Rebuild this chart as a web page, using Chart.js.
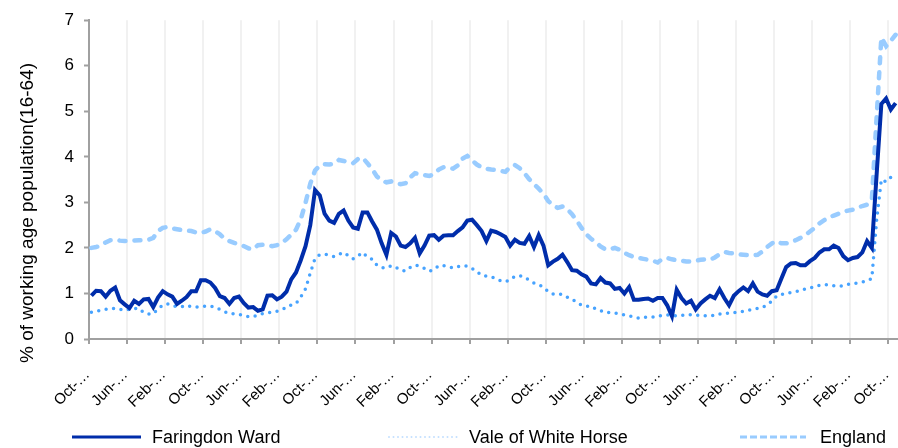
<!DOCTYPE html>
<html>
<head>
<meta charset="utf-8">
<script src="https://cdn.jsdelivr.net/npm/chart.js@4.4.0/dist/chart.umd.min.js"></script>
<style>
  html, body { margin: 0; padding: 0; background: #fff; }
  #wrap { position: relative; width: 898px; height: 448px; }
  #legend { position: absolute; left: 0; top: 427px; width: 898px; height: 20px;
    font: 18px 'Liberation Sans', Arial, sans-serif; color: #000; }
  .item { position: absolute; top: 0; height: 20px; display: flex; align-items: center; white-space: nowrap; }
</style>
</head>
<body>
<div id="wrap">
  <canvas id="chart" width="898" height="448"></canvas>
  <div id="legend"></div>
</div>
<script>
// tick labels, one every 8 points
const tickLabels = ['Oct-…', 'Jun-…', 'Feb-…', 'Oct-…', 'Jun-…', 'Feb-…', 'Oct-…', 'Jun-…',
  'Feb-…', 'Oct-…', 'Jun-…', 'Feb-…', 'Oct-…', 'Jun-…', 'Feb-…', 'Oct-…', 'Jun-…', 'Feb-…',
  'Oct-…', 'Jun-…', 'Feb-…', 'Oct-…'];

const faringdon = [0.95,1.06,1.05,0.93,1.06,1.13,0.85,0.76,0.68,0.84,
  0.77,0.87,0.88,0.70,0.91,1.05,0.98,0.93,0.77,0.84,
  0.92,1.05,1.05,1.29,1.29,1.24,1.12,0.94,0.90,0.77,
  0.90,0.93,0.79,0.69,0.70,0.62,0.65,0.95,0.96,0.87,
  0.93,1.04,1.31,1.46,1.73,2.04,2.50,3.27,3.15,2.75,
  2.60,2.55,2.75,2.82,2.60,2.45,2.42,2.78,2.78,2.58,
  2.40,2.10,1.85,2.33,2.25,2.05,2.02,2.10,2.22,1.88,
  2.05,2.27,2.28,2.18,2.27,2.28,2.28,2.37,2.45,2.60,
  2.62,2.50,2.37,2.15,2.38,2.35,2.30,2.24,2.05,2.18,
  2.11,2.09,2.26,2.02,2.28,2.05,1.62,1.70,1.76,1.85,
  1.69,1.51,1.50,1.42,1.37,1.22,1.20,1.34,1.24,1.22,
  1.10,1.12,1.00,1.14,0.86,0.86,0.88,0.89,0.84,0.90,
  0.90,0.74,0.50,1.08,0.90,0.78,0.84,0.65,0.78,0.87,
  0.95,0.90,1.09,0.90,0.74,0.95,1.05,1.13,1.05,1.22,
  1.04,0.98,0.95,1.05,1.07,1.33,1.58,1.66,1.67,1.62,
  1.62,1.71,1.78,1.90,1.97,1.97,2.05,2.00,1.82,1.73,
  1.78,1.80,1.90,2.15,2.00,3.60,5.16,5.28,5.04,5.18];

const vale = [0.59,0.61,0.63,0.65,0.67,0.67,0.65,0.63,0.65,0.67,
  0.67,0.58,0.55,0.55,0.66,0.74,0.77,0.73,0.71,0.71,
  0.74,0.71,0.70,0.71,0.72,0.72,0.70,0.65,0.60,0.56,
  0.55,0.54,0.51,0.49,0.49,0.53,0.56,0.57,0.59,0.61,
  0.65,0.69,0.75,0.78,0.92,1.10,1.45,1.77,1.85,1.86,
  1.84,1.81,1.86,1.90,1.83,1.76,1.82,1.90,1.80,1.75,
  1.62,1.57,1.56,1.61,1.57,1.51,1.49,1.57,1.62,1.60,
  1.55,1.49,1.52,1.61,1.61,1.59,1.56,1.59,1.61,1.60,
  1.55,1.48,1.40,1.38,1.36,1.33,1.28,1.26,1.30,1.38,
  1.39,1.36,1.29,1.23,1.19,1.14,1.04,0.99,0.98,0.98,
  0.92,0.87,0.81,0.74,0.72,0.72,0.66,0.62,0.58,0.58,
  0.57,0.55,0.53,0.51,0.48,0.46,0.48,0.48,0.48,0.50,
  0.52,0.53,0.52,0.51,0.52,0.53,0.53,0.52,0.52,0.51,
  0.51,0.52,0.55,0.56,0.57,0.58,0.59,0.61,0.63,0.65,
  0.67,0.69,0.75,0.83,0.94,0.98,1.00,1.02,1.04,1.06,
  1.10,1.12,1.15,1.18,1.19,1.19,1.17,1.16,1.17,1.20,
  1.22,1.23,1.25,1.28,1.33,2.60,3.50,3.45,3.55,3.65];

const england = [2.00,2.02,2.05,2.12,2.17,2.18,2.16,2.15,2.15,2.16,
  2.17,2.17,2.18,2.22,2.37,2.44,2.46,2.43,2.41,2.39,
  2.38,2.37,2.34,2.33,2.36,2.41,2.37,2.30,2.20,2.15,
  2.11,2.08,2.04,1.99,1.97,2.06,2.07,2.06,2.04,2.06,
  2.11,2.19,2.29,2.40,2.63,2.99,3.41,3.70,3.81,3.84,
  3.83,3.85,3.93,3.91,3.88,3.86,3.95,3.98,3.86,3.73,
  3.57,3.48,3.44,3.46,3.42,3.40,3.42,3.55,3.64,3.62,
  3.60,3.58,3.62,3.72,3.77,3.76,3.74,3.81,3.96,4.02,
  3.92,3.83,3.77,3.74,3.72,3.71,3.69,3.67,3.78,3.82,
  3.75,3.64,3.51,3.40,3.30,3.19,3.03,2.93,2.88,2.91,
  2.85,2.74,2.60,2.44,2.30,2.20,2.13,2.03,1.97,1.97,
  2.00,1.96,1.89,1.84,1.80,1.78,1.76,1.74,1.72,1.68,
  1.76,1.78,1.75,1.73,1.72,1.70,1.70,1.72,1.74,1.75,
  1.74,1.79,1.86,1.91,1.89,1.88,1.86,1.85,1.84,1.84,
  1.85,1.92,2.02,2.10,2.15,2.10,2.10,2.13,2.17,2.22,
  2.28,2.36,2.44,2.54,2.61,2.67,2.71,2.75,2.79,2.82,
  2.84,2.88,2.92,2.95,3.05,4.85,6.62,6.43,6.55,6.68];

const seriesNames = ['Faringdon Ward', 'Vale of White Horse', 'England'];
const yTitle = '% of working age population(16-64)';

const FONT = "'Liberation Sans', Arial, sans-serif";
const AXIS = '#a0a0a0';
const GRID = '#f1f1f1';

// y axis title sits lower than the plot centre in the original
const yTitlePlugin = {
  id: 'yTitle',
  afterDraw(chart) {
    const ctx = chart.ctx;
    ctx.save();
    ctx.translate(33, 213);
    ctx.rotate(-Math.PI / 2);
    ctx.font = '19px ' + FONT;
    ctx.fillStyle = '#000';
    ctx.textAlign = 'center';
    ctx.textBaseline = 'alphabetic';
    ctx.fillText(yTitle, 0, 0);
    ctx.restore();
  }
};

const chart = new Chart(document.getElementById('chart'), {
  type: 'line',
  data: {
    labels: faringdon.map((v, i) => i),
    datasets: [{
      label: seriesNames[0],
      data: faringdon,
      borderColor: '#002daa',
      borderWidth: 4,
      pointRadius: 0,
      tension: 0,
      legendSample: { dash: '', width: 3, color: '#002daa', cap: 'butt' }
    }, {
      label: seriesNames[1],
      data: vale,
      borderColor: '#47a3ff',
      borderWidth: 3.5,
      borderDash: [0, 7.5],
      borderCapStyle: 'round',
      pointRadius: 0,
      tension: 0,
      legendSample: { dash: '0 4.5', width: 2, color: '#c4e0ff', cap: 'round' }
    }, {
      label: seriesNames[2],
      data: england,
      borderColor: '#99ccff',
      borderWidth: 4.5,
      borderDash: [6, 9],
      borderCapStyle: 'round',
      pointRadius: 0,
      tension: 0,
      legendSample: { dash: '7 3', width: 3, color: '#99ccff', cap: 'butt' }
    }]
  },
  options: {
    responsive: false,
    animation: false,
    devicePixelRatio: 1,
    layout: { padding: { top: 17, right: 0, bottom: 0, left: 0 } },
    plugins: {
      legend: { display: false },
      tooltip: { enabled: false }
    },
    scales: {
      x: {
        offset: true,
        grid: {
          offset: true,
          lineWidth: 2,
          color: (c) => (c.index % 8 === 0 ? GRID : 'rgba(0,0,0,0)'),
          tickColor: (c) => (c.index % 8 === 0 ? AXIS : 'rgba(0,0,0,0)'),
          tickLength: 5,
          tickWidth: 2
        },
        border: { color: AXIS, width: 2 },
        ticks: {
          autoSkip: false,
          minRotation: 45,
          maxRotation: 45,
          padding: 22,
          labelOffset: -4,
          color: '#000',
          font: { family: FONT, size: 15 },
          callback: (v, i) => (i % 8 === 0 ? tickLabels[i / 8] : '')
        },
        afterFit: (scale) => {
          scale.height = 109;
          scale.paddingLeft = 0;
          scale.paddingRight = 0;
        }
      },
      y: {
        min: 0,
        max: 7,
        ticks: {
          stepSize: 1,
          padding: 10,
          color: '#000',
          font: { family: FONT, size: 17 }
        },
        grid: {
          drawOnChartArea: false,
          color: 'rgba(0,0,0,0)',
          tickColor: AXIS,
          tickLength: 5,
          tickWidth: 2
        },
        border: { color: AXIS, width: 2 },
        afterFit: (scale) => { scale.width = 89; }
      }
    }
  },
  plugins: [yTitlePlugin]
});

// html legend spread across the bottom, like the original
const legendLeft = [71, 388, 739];
const sampleWidth = [71, 70, 68];
const legendGap = [10, 11, 13];
const legend = document.getElementById('legend');
chart.data.datasets.forEach((ds, i) => {
  const s = ds.legendSample;
  const item = document.createElement('div');
  item.className = 'item';
  item.style.left = legendLeft[i] + 'px';
  item.innerHTML =
    '<svg width="' + sampleWidth[i] + '" height="8" style="margin-right:' + legendGap[i] + 'px">' +
    '<line x1="1" y1="4" x2="' + (sampleWidth[i] - 1) + '" y2="4" stroke="' + s.color +
    '" stroke-width="' + s.width + '" stroke-linecap="' + s.cap + '"' +
    (s.dash ? ' stroke-dasharray="' + s.dash + '"' : '') + '/></svg>' +
    '<span>' + ds.label + '</span>';
  legend.appendChild(item);
});
</script>
</body>
</html>
